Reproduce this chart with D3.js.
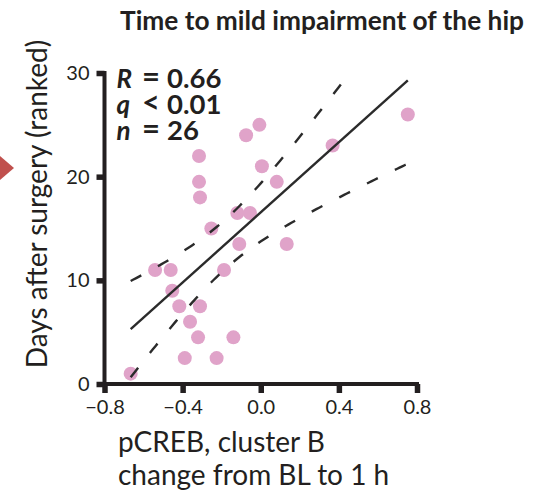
<!DOCTYPE html>
<html>
<head>
<meta charset="utf-8">
<script src="https://cdn.jsdelivr.net/npm/d3@7/dist/d3.min.js"></script>
<style>
  html, body { margin: 0; padding: 0; background: #fff; }
  svg { display: block; font-family: Lato, "Open Sans", sans-serif; }
</style>
</head>
<body>
<svg id="chart" width="543" height="495"></svg>
<script>
// pCREB (cluster B) change from BL to 1 h, per patient
const pcrebChange = [
  -0.666, -0.541, -0.461, -0.453, -0.417, -0.389, -0.362, -0.311, -0.321,
  -0.316, -0.316, -0.311, -0.253, -0.226, -0.188, -0.140, -0.120, -0.110,
  -0.075, -0.055, -0.007, 0.006, 0.082, 0.133, 0.368, 0.753
];
// Days after surgery to mild hip impairment (ranked, ties averaged)
const daysRank = [
  1, 11, 11, 9, 7.5, 2.5, 6, 7.5, 4.5,
  22, 19.5, 18, 15, 2.5, 11, 4.5, 16.5, 13.5,
  24, 16.5, 25, 21, 19.5, 13.5, 23, 26
];
const xTicks = [-0.8, -0.4, 0.0, 0.4, 0.8];
const yTicks = [0, 10, 20, 30];
const statSymbols = ["R", "q", "n"];
const statRelations = ["=", "<", "="];
const statValues = ["0.66", "0.01", "26"];
const T_CRIT = 2.064; // two-sided 95%, df = 24

const ink = "#231f20";
const svg = d3.select("#chart");
const x = d3.scaleLinear().domain([-0.8, 0.8]).range([104.5, 417]);
const y = d3.scaleLinear().domain([0, 30]).range([384, 73]);

// least-squares fit and 95% confidence band of the mean
const n = pcrebChange.length;
const mx = d3.mean(pcrebChange), my = d3.mean(daysRank);
let sxx = 0, sxy = 0, syy = 0;
for (let i = 0; i < n; i++) {
  const dx = pcrebChange[i] - mx, dy = daysRank[i] - my;
  sxx += dx * dx; sxy += dx * dy; syy += dy * dy;
}
const slope = sxy / sxx;
const fit = v => my + slope * (v - mx);
const se = Math.sqrt((syy - slope * sxy) / (n - 2));
const half = v => T_CRIT * se * Math.sqrt(1 / n + (v - mx) ** 2 / sxx);
const [x0, x1] = d3.extent(pcrebChange);
const xs = d3.range(0, 101).map(i => x0 + (x1 - x0) * i / 100);
const yMaxFit = fit(x1);

// title
svg.append("text")
  .attr("x", 120).attr("y", 30)
  .attr("font-weight", 700).attr("font-size", 27.5)
  .attr("textLength", 404).attr("lengthAdjust", "spacingAndGlyphs")
  .attr("fill", ink)
  .text("Time to mild impairment of the hip");

// marker arrow at the left edge
svg.append("path")
  .attr("d", "M0,156L14,168L0,180Z")
  .attr("fill", "#c0504d");

// points
svg.append("g").selectAll("circle")
  .data(pcrebChange.map((v, i) => [v, daysRank[i]]))
  .join("circle")
  .attr("cx", d => x(d[0])).attr("cy", d => y(d[1]))
  .attr("r", 7)
  .attr("fill", "#e0a3c9");

// regression line
svg.append("line")
  .attr("x1", x(x0)).attr("y1", y(fit(x0)))
  .attr("x2", x(x1)).attr("y2", y(fit(x1)))
  .attr("stroke", "#2b2b2b").attr("stroke-width", 2.4);

// confidence band
const bandLine = d3.line().x(d => x(d[0])).y(d => y(d[1]));
const upper = xs.map(v => [v, fit(v) + half(v)]).filter(d => d[1] <= yMaxFit);
const lower = xs.map(v => [v, fit(v) - half(v)]);
[upper, lower].forEach(pts => {
  svg.append("path")
    .attr("d", bandLine(pts))
    .attr("fill", "none")
    .attr("stroke", "#2b2b2b").attr("stroke-width", 2.4)
    .attr("stroke-dasharray", "12,19");
});

// axes
const fmtX = d3.format(".1f");
const gx = svg.append("g").attr("transform", `translate(0,${y(0)})`)
  .call(d3.axisBottom(x).tickValues(xTicks).tickFormat(fmtX).tickSize(9).tickSizeOuter(0).tickPadding(7));
const gy = svg.append("g").attr("transform", `translate(${x(-0.8)},0)`)
  .call(d3.axisLeft(y).tickValues(yTicks).tickSize(8).tickSizeOuter(0).tickPadding(7));
[gx, gy].forEach(g => {
  g.select(".domain").attr("stroke", ink).attr("stroke-width", 4);
  g.selectAll(".tick line").attr("stroke", ink).attr("stroke-width", 5.5);
  g.selectAll(".tick text").attr("fill", ink)
    .attr("font-family", "Lato, sans-serif").attr("font-size", 20);
});
// extend domains through the corner
gx.select(".domain").attr("d", `M${x(-0.8) - 2},0H${x(0.8) + 2}`);
gy.select(".domain").attr("d", `M0,${y(30) - 2}V${y(0) + 2}`);

// axis titles
svg.append("text")
  .attr("transform", `translate(47,204) rotate(-90)`)
  .attr("text-anchor", "middle")
  .attr("font-size", 28).attr("fill", ink)
  .text("Days after surgery (ranked)");
svg.append("text")
  .attr("x", 118).attr("y", 452)
  .attr("font-size", 28).attr("fill", ink)
  .text("pCREB, cluster B");
svg.append("text")
  .attr("x", 118).attr("y", 485)
  .attr("font-size", 28).attr("fill", ink)
  .text("change from BL to 1 h");

// statistics
const stats = svg.append("g")
  .attr("font-size", 26).attr("font-weight", 700).attr("fill", ink);
statSymbols.forEach((s, i) => {
  const by = 88 + i * 26;
  stats.append("text").attr("x", 116.5).attr("y", by)
    .attr("font-style", "italic").text(s);
  stats.append("text").attr("x", 151).attr("y", by - 1)
    .attr("text-anchor", "middle").attr("font-size", 31)
    .text(statRelations[i]);
  stats.append("text").attr("x", 167).attr("y", by)
    .attr("font-size", 27.5)
    .text(statValues[i]);
});
</script>
</body>
</html>
